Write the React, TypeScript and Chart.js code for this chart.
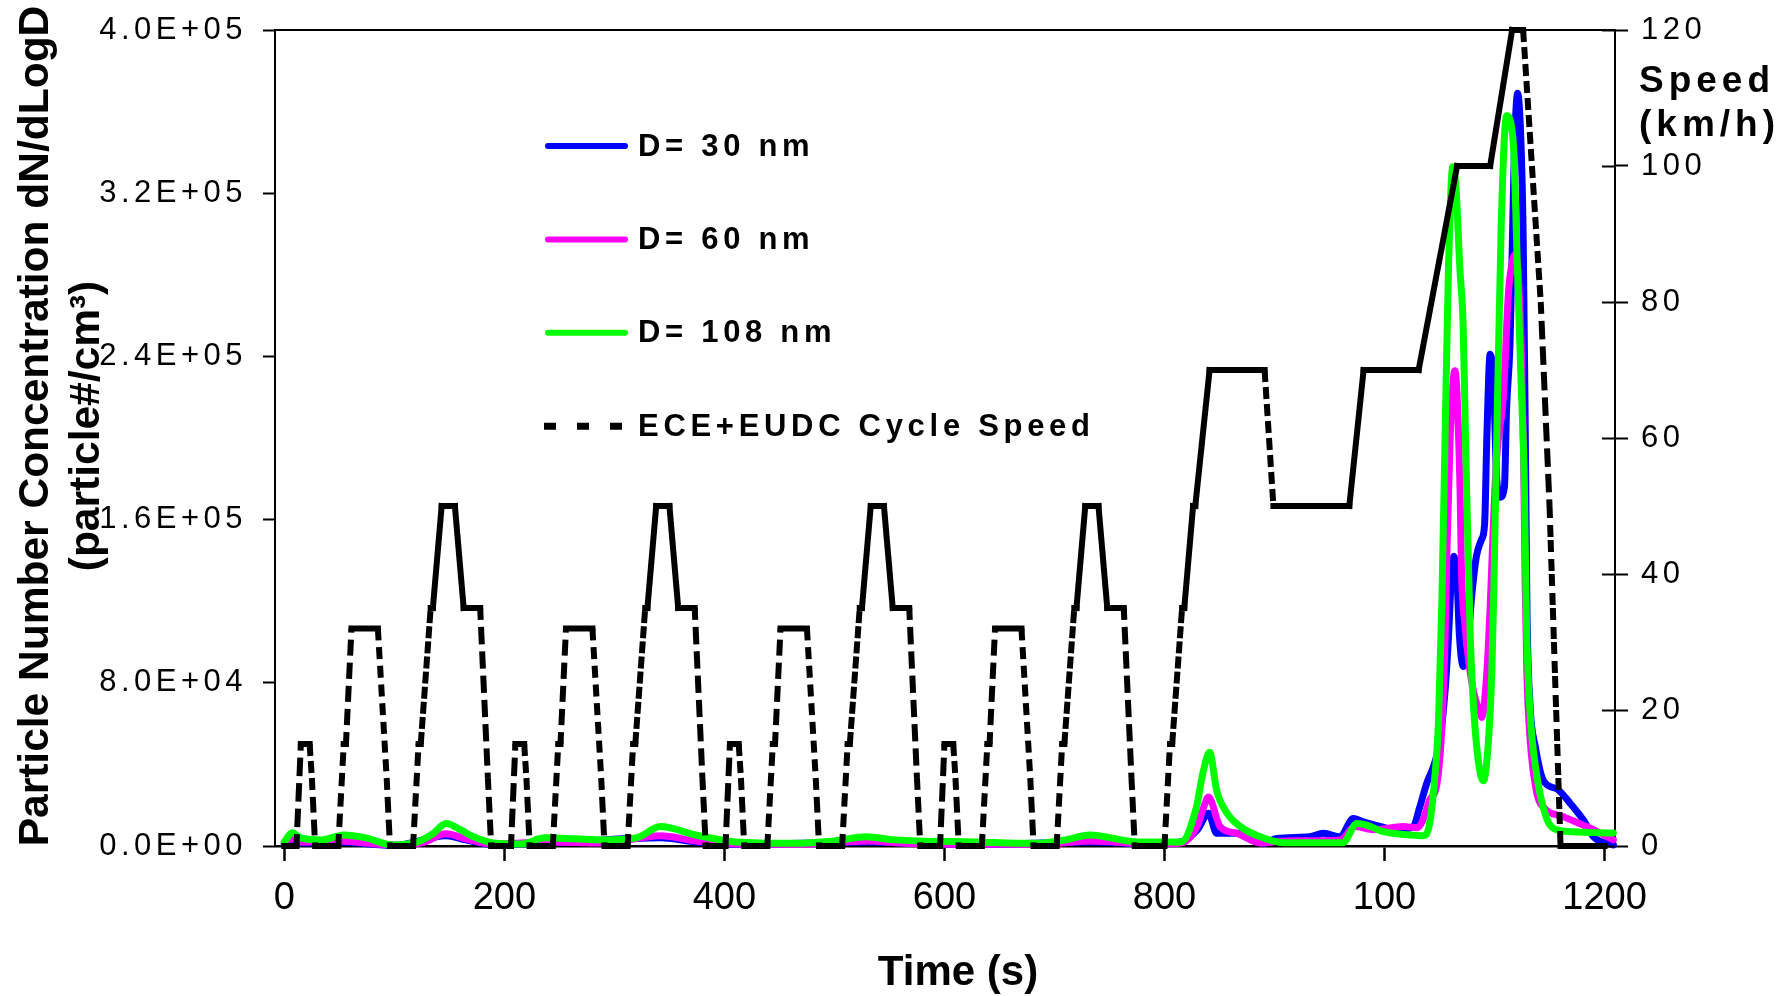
import React, { useEffect, useRef } from 'react';
import { Chart, registerables } from 'chart.js';

Chart.register(...registerables);

const FONT = '"Liberation Sans", Arial, Helvetica, sans-serif';

// ---- axis ticks ----
const xTickValues = [0, 200, 400, 600, 800, 1000, 1200];
const xTickLabels = ['0', '200', '400', '600', '800', '100', '1200'];
const yTickValues = [0, 80000, 160000, 240000, 320000, 400000];
const yTickLabels = ['0.0E+00', '8.0E+04', '1.6E+05', '2.4E+05', '3.2E+05', '4.0E+05'];
const speedTickValues = [0, 20, 40, 60, 80, 100, 120];

// ---- series labels / colours ----
const seriesLabels = ['D= 30 nm', 'D= 60 nm', 'D= 108 nm', 'ECE+EUDC Cycle Speed'];
const seriesColors = ['#0000FF', '#FF00FF', '#00FF00', '#000000'];

// ---- ECE+EUDC cycle speed (time s, km/h) ----
const speedTimes = [
  0, 11, 15, 23, 25, 28, 49, 54, 56, 61, 85, 93, 96, 117, 122, 124, 133, 135, 143, 155, 163, 176, 178, 185, 188,
  195, 206, 210, 218, 220, 223, 244, 249, 251, 256, 280, 288, 291, 312, 317, 319, 328, 330, 338, 350, 358, 371, 373, 380, 383,
  390, 401, 405, 413, 415, 418, 439, 444, 446, 451, 475, 483, 486, 507, 512, 514, 523, 525, 533, 545, 553, 566, 568, 575, 578,
  585, 596, 600, 608, 610, 613, 634, 639, 641, 646, 670, 678, 681, 702, 707, 709, 718, 720, 728, 740, 748, 761, 763, 770, 773,
  780, 800, 805, 807, 816, 818, 826, 828, 841, 891, 899, 968, 981, 1031, 1066, 1096, 1116, 1126, 1142, 1150, 1160, 1200,
];
const speedValues = [
  0, 0, 15, 15, 10, 0, 0, 15, 15, 32, 32, 10, 0, 0, 15, 15, 35, 35, 50, 50, 35, 35, 35, 10, 0,
  0, 0, 15, 15, 10, 0, 0, 15, 15, 32, 32, 10, 0, 0, 15, 15, 35, 35, 50, 50, 35, 35, 35, 10, 0,
  0, 0, 15, 15, 10, 0, 0, 15, 15, 32, 32, 10, 0, 0, 15, 15, 35, 35, 50, 50, 35, 35, 35, 10, 0,
  0, 0, 15, 15, 10, 0, 0, 15, 15, 32, 32, 10, 0, 0, 15, 15, 35, 35, 50, 50, 35, 35, 35, 10, 0,
  0, 0, 15, 15, 35, 35, 50, 50, 70, 70, 50, 50, 70, 70, 100, 100, 120, 120, 80, 50, 0, 0,
];

// ---- particle number concentration [time s, dN/dLogD] ----
const d30Points: [number, number][] = [
  [0, 1000], [6, 3000], [15, 1500], [50, 2000], [100, 300], [147, 5000], [165, 3000], [190, 800], [240, 1500],
  [342, 4000], [374, 2000], [410, 800], [530, 2000], [630, 800], [732, 2000], [790, 1000], [815, 2000],
  [830, 8000], [840, 16000], [847.5, 6200], [878, 6200], [890, 1300], [902, 3700], [932, 4500], [944.5, 6200],
  [959.6, 4500], [971.7, 13500], [980, 12000], [993, 10000], [1011, 8000], [1026, 9500], [1032, 19000],
  [1038.5, 31000], [1044.5, 39000], [1050.5, 52000], [1055, 76000], [1058, 101000], [1061, 134000],
  [1063, 142000], [1066, 130000], [1068, 104000], [1071.7, 88000], [1076, 101000], [1079, 121000],
  [1083.5, 142000], [1088, 150000], [1091, 158000], [1093, 200000], [1096, 241000], [1099, 228000],
  [1102, 180000], [1105, 171000], [1109, 176000], [1111, 215000], [1114, 245000], [1116, 290000],
  [1118, 340000], [1121, 369000], [1124, 345000], [1126, 300000], [1128, 200000], [1129.5, 115000],
  [1132.4, 68000], [1137, 49000], [1144.5, 32000], [1156.6, 28000], [1168.7, 21000], [1180.8, 12700],
  [1190, 4500], [1208, 500],
];
const d60Points: [number, number][] = [
  [0, 1500], [6, 3500], [15, 2000], [50, 2500], [100, 500], [125, 1500], [147, 6000], [165, 3500], [190, 1000],
  [240, 2000], [290, 1500], [342, 5000], [374, 2500], [410, 1000], [470, 800], [530, 2500], [560, 1500],
  [630, 800], [690, 800], [732, 2500], [790, 1000], [815, 1500], [830, 10000], [835, 18000], [840, 24000],
  [850.5, 9500], [866, 6200], [887, 1500], [910, 2500], [960, 3000], [973, 9500], [990, 8000], [1017, 9500],
  [1030, 9000], [1035, 12700], [1041, 22500], [1047.5, 30000], [1052, 57000], [1055, 101000],
  [1056.6, 142000], [1059.6, 199000], [1064, 233000], [1068.7, 174000], [1070, 134000], [1073, 109000],
  [1076, 93000], [1080.8, 76000], [1086.9, 65000], [1088.4, 63000], [1093, 85000], [1096, 117000],
  [1099, 158000], [1102, 191000], [1108, 220000], [1112.6, 271000], [1115.7, 285000], [1118.7, 290000],
  [1121.7, 279000], [1124.8, 235000], [1126.3, 196000], [1127.8, 130000], [1129.4, 85000], [1132.4, 52000],
  [1138.4, 26000], [1144.5, 19000], [1162.6, 14400], [1184, 9500], [1208, 3000],
];
const d108Points: [number, number][] = [
  [0, 2000], [7, 6500], [15, 4000], [34, 3000], [54, 5400], [74, 4000], [98, 500], [121, 2000], [135, 6000],
  [147, 11000], [160, 8000], [172, 4500], [190, 1500], [215, 1000], [237, 4000], [265, 3500], [290, 3000],
  [320, 4000], [342, 9500], [374, 5400], [410, 2000], [463, 1300], [500, 2500], [529, 4500], [555, 3000],
  [628, 2000], [682, 1300], [710, 3000], [732, 5400], [776, 2000], [815, 2000], [829, 19000], [835, 36000],
  [841, 46000], [847.5, 27000], [857, 16000], [869, 9500], [887, 4500], [908, 1600], [962, 1600], [975, 11000],
  [985, 10000], [999, 7000], [1023, 5400], [1035, 5000], [1041, 11000], [1046, 35600], [1049, 60000],
  [1052, 117000], [1055, 199000], [1058, 280000], [1062, 333000], [1065, 322000], [1068.5, 283000],
  [1071.5, 255000], [1074, 190000], [1078, 101000], [1082, 60000], [1087, 35600], [1090, 32000],
  [1094.5, 52000], [1097.5, 85000], [1099, 117000], [1100.5, 158000], [1102, 199000], [1106, 303000],
  [1111, 358000], [1117, 345000], [1121, 280000], [1124, 230000], [1127, 180000], [1129, 110000],
  [1132, 68000], [1138, 36000], [1147, 14000], [1154, 8500], [1170, 7000], [1208, 6400],
];

// Excel-like dash: the dash pattern restarts at every 1 s data step
const DASH_ON = 12;
const DASH_OFF = 7;
function perSecondLength(ctx: any): number {
  const chart = ctx.chart;
  const xs = chart && chart.scales && chart.scales.x;
  const dx = ctx.p1.x - ctx.p0.x;
  const dy = ctx.p1.y - ctx.p0.y;
  if (!xs || dx <= 0.01) return 0;
  const pxPerSec = (xs.right - xs.left) / (xs.max - xs.min);
  return (Math.hypot(dx, dy) * pxPerSec) / dx;
}
function perSecondDash(ctx: any): number[] {
  const L = perSecondLength(ctx);
  if (L <= DASH_ON + 1.5) return [];
  const out: number[] = [];
  let rem = L;
  let on = true;
  while (rem > 0.001) {
    const s = Math.min(rem, on ? DASH_ON : DASH_OFF);
    out.push(s);
    rem -= s;
    on = !on;
  }
  if (out.length % 2 === 1) out.push(0);
  return out;
}
function perSecondCap(ctx: any): string {
  return perSecondLength(ctx) <= DASH_ON + 1.5 ? 'square' : 'butt';
}

const decorPlugin = {
  id: 'decor',
  beforeDraw(chart: any) {
    for (const id of ['y', 'y1']) {
      const s = chart.scales[id];
      if (s && !s.__spaced) {
        const orig = s.drawLabels;
        s.drawLabels = function (area: any) {
          const c: any = this.ctx;
          const prev = c.letterSpacing;
          c.letterSpacing = '4.5px';
          orig.call(this, area);
          c.letterSpacing = prev || '0px';
        };
        s.__spaced = true;
      }
    }
  },
  afterDraw(chart: any) {
    const ctx: any = chart.ctx;
    const area = chart.chartArea;
    ctx.save();
    ctx.letterSpacing = '0px';
    ctx.strokeStyle = '#000';
    ctx.fillStyle = '#000';
    ctx.lineWidth = 2;
    // top frame line
    ctx.beginPath();
    ctx.moveTo(area.left, area.top);
    ctx.lineTo(area.right, area.top);
    ctx.stroke();
    // inner half of right-axis ticks
    const s1 = chart.scales.y1;
    s1.ticks.forEach((t: any) => {
      const py = Math.round(s1.getPixelForValue(t.value)) + 0.5;
      ctx.beginPath();
      ctx.moveTo(area.right - 13, py);
      ctx.lineTo(area.right, py);
      ctx.stroke();
    });

    // left axis title (two lines, rotated)
    ctx.font = `bold 42.5px ${FONT}`;
    ctx.textAlign = 'center';
    ctx.textBaseline = 'alphabetic';
    const yMid = 426;
    ctx.save();
    ctx.translate(48, yMid);
    ctx.rotate(-Math.PI / 2);
    ctx.fillText('Particle Number Concentration dN/dLogD', 0, 0);
    ctx.restore();
    ctx.save();
    ctx.translate(99, yMid);
    ctx.rotate(-Math.PI / 2);
    ctx.fillText('(particle#/cm\u00B3)', 0, 0);
    ctx.restore();

    // x axis title
    ctx.font = `bold 42px ${FONT}`;
    ctx.fillText('Time (s)', 958, 985);

    // right axis title
    ctx.font = `bold 37px ${FONT}`;
    ctx.textAlign = 'left';
    ctx.letterSpacing = '5px';
    ctx.fillText('Speed', 1639, 92);
    ctx.fillText('(km/h)', 1639, 136);

    // legend
    const ds = chart.data.datasets;
    const legendOrder = [0, 1, 2, 3];
    legendOrder.forEach((idx, i) => {
      const d = ds[idx];
      const y = 146 + i * 93.4;
      ctx.save();
      ctx.letterSpacing = '0px';
      ctx.strokeStyle = d.borderColor;
      if (idx === 3) {
        ctx.lineWidth = 7;
        ctx.lineCap = 'butt';
        ctx.setLineDash([12, 21]);
        ctx.beginPath();
        ctx.moveTo(544, y);
        ctx.lineTo(627, y);
        ctx.stroke();
      } else {
        ctx.lineWidth = 6;
        ctx.lineCap = 'round';
        ctx.beginPath();
        ctx.moveTo(548, y);
        ctx.lineTo(625, y);
        ctx.stroke();
      }
      ctx.restore();
      ctx.font = `bold 31px ${FONT}`;
      ctx.letterSpacing = '4.7px';
      ctx.textAlign = 'left';
      ctx.textBaseline = 'middle';
      ctx.fillStyle = '#000';
      ctx.fillText(d.label, 638, y + 1);
    });
    ctx.restore();
  },
};

export default function App() {
  const canvasRef = useRef<HTMLCanvasElement | null>(null);

  useEffect(() => {
    const canvas = canvasRef.current;
    if (!canvas) return;
    const toXY = (pts: [number, number][]) => pts.map(([x, y]) => ({ x, y }));
    const speedData = speedTimes.map((t, i) => ({ x: t, y: speedValues[i] }));

    const lineStyle = (color: string, order: number) => ({
      borderColor: color,
      backgroundColor: color,
      borderWidth: 7,
      pointRadius: 0,
      cubicInterpolationMode: 'monotone' as const,
      borderJoinStyle: 'round' as const,
      borderCapStyle: 'round' as const,
      yAxisID: 'y',
      order,
      clip: 10,
    });

    const chart = new Chart(canvas, {
      type: 'line',
      data: {
        datasets: [
          { label: seriesLabels[0], data: toXY(d30Points), ...lineStyle(seriesColors[0], 3) },
          { label: seriesLabels[1], data: toXY(d60Points), ...lineStyle(seriesColors[1], 2) },
          { label: seriesLabels[2], data: toXY(d108Points), ...lineStyle(seriesColors[2], 1) },
          {
            label: seriesLabels[3],
            data: speedData,
            borderColor: seriesColors[3],
            backgroundColor: seriesColors[3],
            borderWidth: 6,
            borderCapStyle: 'square',
            borderJoinStyle: 'miter',
            pointRadius: 0,
            tension: 0,
            yAxisID: 'y1',
            order: 0,
            clip: 10,
            segment: {
              borderDash: (ctx: any) => perSecondDash(ctx),
              borderCapStyle: (ctx: any) => perSecondCap(ctx),
              borderDashOffset: (ctx: any) => (ctx.p0DataIndex % 2) * 0.01,
            },
          } as any,
        ],
      },
      options: {
        responsive: false,
        animation: false,
        devicePixelRatio: 1,
        layout: { padding: { left: 0, right: 0, top: 30, bottom: 0 } },
        plugins: { legend: { display: false }, tooltip: { enabled: false }, title: { display: false } },
        scales: {
          x: {
            type: 'linear',
            min: -8.5,
            max: 1209.5,
            afterBuildTicks: (s: any) => {
              s.ticks = xTickValues.map((v) => ({ value: v }));
            },
            afterFit: (s: any) => {
              s.height = 150;
              s.paddingLeft = 0;
              s.paddingRight = 0;
            },
            ticks: {
              autoSkip: false,
              maxRotation: 0,
              padding: 15,
              color: '#000',
              font: { family: FONT, size: 38 },
              callback: (_v: any, i: number) => xTickLabels[i],
            },
            grid: { drawOnChartArea: false, drawTicks: true, tickLength: 15, tickWidth: 2.5, tickColor: '#000' },
            border: { display: true, color: '#000', width: 2.5 },
          },
          y: {
            type: 'linear',
            position: 'left',
            min: 0,
            max: 400000,
            afterBuildTicks: (s: any) => {
              s.ticks = yTickValues.map((v) => ({ value: v }));
            },
            afterFit: (s: any) => {
              s.width = 275;
              s.paddingTop = 0;
              s.paddingBottom = 0;
            },
            ticks: {
              padding: 16,
              color: '#000',
              font: { family: FONT, size: 31 },
              callback: (_v: any, i: number) => yTickLabels[i],
            },
            grid: { drawOnChartArea: false, drawTicks: true, tickLength: 12, tickWidth: 2, tickColor: '#000' },
            border: { display: true, color: '#000', width: 2 },
          },
          y1: {
            type: 'linear',
            position: 'right',
            min: 0,
            max: 120,
            afterBuildTicks: (s: any) => {
              s.ticks = speedTickValues.map((v) => ({ value: v }));
            },
            afterFit: (s: any) => {
              s.width = 172;
              s.paddingTop = 0;
              s.paddingBottom = 0;
            },
            ticks: {
              padding: 13,
              color: '#000',
              font: { family: FONT, size: 31 },
              callback: (v: any) => String(v),
            },
            grid: { drawOnChartArea: false, drawTicks: true, tickLength: 13, tickWidth: 2, tickColor: '#000' },
            border: { display: true, color: '#000', width: 2 },
          },
        },
      } as any,
      plugins: [decorPlugin as any],
    });

    return () => {
      chart.destroy();
    };
  }, []);

  return (
    <div style={{ position: 'absolute', left: 0, top: 0, width: 1787, height: 996, background: '#fff' }}>
      <canvas ref={canvasRef} width={1787} height={996} style={{ display: 'block', width: 1787, height: 996 }} />
    </div>
  );
}
